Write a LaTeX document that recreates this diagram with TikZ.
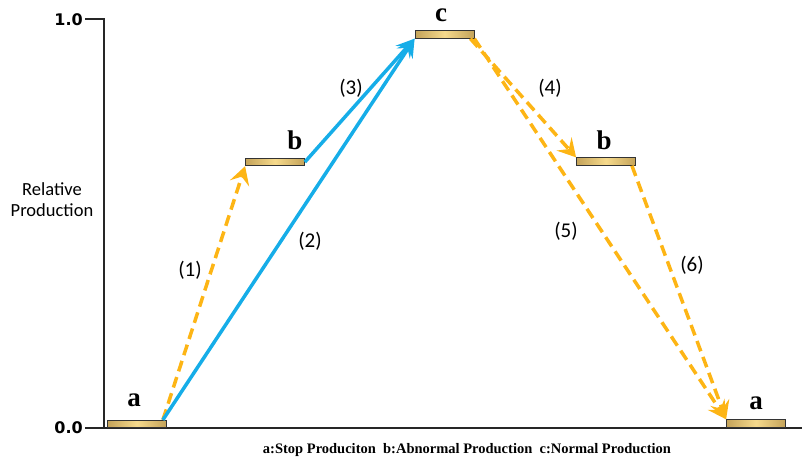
\documentclass[tikz,border=0pt]{standalone}
\usepackage{fontspec}
\setmainfont{Liberation Serif}
\newfontfamily\numfont{Carlito}
\newfontfamily\axfont{DejaVu Sans}
\usetikzlibrary{arrows.meta}
\definecolor{gold}{HTML}{FDB515}
\definecolor{skyb}{HTML}{16ADE8}
\definecolor{baredge}{HTML}{C4A35A}
\definecolor{barmid}{HTML}{F6DA8C}
\begin{document}
\begin{tikzpicture}[x=1pt,y=-1pt,
  bar/.style={draw=black!80,line width=0.8pt,minimum width=59pt,minimum height=7.5pt,inner sep=0pt,
    left color=baredge,right color=baredge,middle color=barmid},
  lvl/.style={font=\fontsize{27}{27}\selectfont\bfseries,inner sep=0pt},
  num/.style={font=\numfont\fontsize{21}{21}\selectfont,inner sep=0pt},
  dasharr/.style={draw=gold,line width=3.5pt,dash pattern=on 11pt off 6pt,
    -{Stealth[length=18pt,width=20pt,inset=7pt,sep=0pt]}},
  solarr/.style={draw=skyb,line width=3.5pt,-{Stealth[length=18pt,width=19pt,inset=7pt]}},
  axis/.style={draw=black!85,line width=1.2pt}]
\useasboundingbox (0,0) rectangle (802,459);
% axes
\coordinate (ytop) at (104,19);
\coordinate (ytick) at (85,19);
\coordinate (ybot) at (104,428);
\coordinate (xl) at (85,428);
\coordinate (xr) at (802,428);
\draw[axis] (ytick) -- (ytop) -- (ybot);
\draw[axis] (xl) -- (xr);
\node[font=\axfont\bfseries\fontsize{16}{16}\selectfont,anchor=east,inner sep=0pt] (one) at (83,20) {1.0};
\node[font=\axfont\bfseries\fontsize{16}{16}\selectfont,anchor=east,inner sep=0pt] (zero) at (83,428) {0.0};
\node[font=\numfont\fontsize{18.5}{21}\selectfont,align=center,inner sep=0pt] (ylab) at (52,200) {Relative\\Production};
% bars
\node[bar] (a1) at (137,424) {};
\node[bar] (c) at (444.5,34.5) {};
\node[bar] (b1) at (275,162) {};
\node[bar] (b2) at (606,161.5) {};
\node[bar] (a2) at (756,423.5) {};
% level labels
\node[lvl] (la1) at (134,400) {a};
\node[lvl] (lc) at (441,15) {c};
\node[lvl] (lb1) at (295,140) {b};
\node[lvl] (lb2) at (604,140) {b};
\node[lvl] (la2) at (756,403) {a};
% arrows
\draw[dasharr] ([xshift=-4pt]a1.north east) -- (b1.south west);
\draw[solarr] ([xshift=-4pt]a1.north east) -- (c.south west);
\draw[solarr] (b1.east) -- (c.south west);
\draw[dasharr] ([xshift=-4pt]c.south east) -- (b2.north west);
\draw[dasharr] (c.south east) -- (a2.north west);
\draw[dasharr] ([xshift=-4pt]b2.south east) -- (a2.north west);
% numbers
\node[num] (n1) at (190,270) {(1)};
\node[num] (n2) at (310,241) {(2)};
\node[num] (n3) at (351,88) {(3)};
\node[num] (n4) at (550,88) {(4)};
\node[num] (n5) at (566,231) {(5)};
\node[num] (n6) at (692,265) {(6)};
% caption
\node[font=\fontsize{14.5}{14.5}\selectfont\bfseries,inner sep=0pt] (cap) at (467,450) {a:Stop Produciton\ \ b:Abnormal Production\ \ c:Normal Production};
\end{tikzpicture}
\end{document}
